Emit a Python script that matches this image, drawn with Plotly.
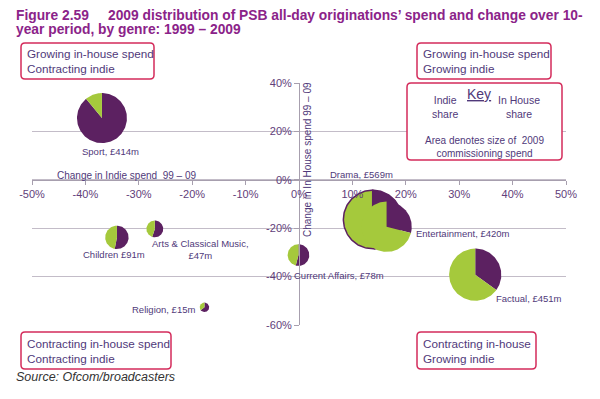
import numpy as np
import plotly.graph_objects as go

# ---------------- data ----------------
genres = ["Sport", "Children", "Arts & Classical Music", "Religion",
          "Current Affairs", "Factual", "Drama", "Entertainment"]
spend_m = [414, 91, 47, 15, 78, 451, 569, 420]
indie_change = [-36.9, -34.1, -27.0, -17.7, -0.1, 33.0, 13.8, 16.4]
inhouse_change = [25.5, -23.8, -20.3, -52.7, -31.1, -39.2, -16.4, -19.4]
indie_share = [0.11, 0.47, 0.45, 0.35, 0.46, 0.65, 0.51, 0.71]
labels = ["Sport, £414m", "Children £91m", "Arts & Classical Music,<br>£47m",
          "Religion, £15m", "Current Affairs, £78m", "Factual, £451m",
          "Drama, £569m", "Entertainment, £420m"]

key_pos = (34.8, 25.1)
key_share = 0.48
key_spend = 95

x_ticks = [-50, -40, -30, -20, -10, 0, 10, 20, 30, 40, 50]
y_ticks = [-60, -40, -20, 0, 20, 40]

# ---------------- layout geometry ----------------
OFF = 8                      # browser body margin
W, H = 600 - OFF, 399 - OFF
PL, PR, PT, PB = 32, 566, 83, 325   # plot area in window pixels
ML, MR, MT, MB = PL - OFF, W - (PR - OFF), PT - OFF, H - (PB - OFF)
PW, PH = PR - PL, PB - PT
XR, YR = (-50, 50), (-60, 40)
ppx = PW / (XR[1] - XR[0])
ppy = PH / (YR[1] - YR[0])
R_K = 25 / np.sqrt(414)  # px radius per sqrt(£m)

PURPLE = "#5c2161"
GREEN = "#a5c93c"
BOX = "#d42b5b"
TXT = "#50397a"
FONT = "Liberation Sans, Arial, sans-serif"

fig = go.Figure()


def wedge(cx, cy, rpx, a0, a1):
    th = np.linspace(a0, a1, max(8, int(abs(a1 - a0) / 2) + 2))
    th = np.radians(th)
    xs = [cx] + list(cx + rpx * np.sin(th) / ppx) + [cx]
    ys = [cy] + list(cy + rpx * np.cos(th) / ppy) + [cy]
    return xs, ys


def add_pie(cx, cy, spend, share, outline=False):
    r = R_K * np.sqrt(spend)
    split = 360 * (1 - share)
    line = dict(color=PURPLE, width=1.5) if outline else dict(width=0)
    for a0, a1, col in [(0, split, PURPLE), (split, 360, GREEN)]:
        xs, ys = wedge(cx, cy, r, a0, a1)
        fig.add_trace(go.Scatter(x=xs, y=ys, mode="lines", fill="toself",
                                 fillcolor=col, line=line, hoverinfo="skip",
                                 showlegend=False))


for g, s, xc, yc, sh in zip(genres, spend_m, indie_change, inhouse_change, indie_share):
    add_pie(xc, yc, s, sh, outline=(g == "Drama"))

add_pie(key_pos[0], key_pos[1], key_spend, key_share)

# labels (pixel offsets from pie centres)
label_off = {
    "Sport": (9, -33, "center"),
    "Children": (-3, -17, "center"),
    "Arts & Classical Music": (46, -21, "center"),
    "Religion": (-7, -2, "right"),
    "Current Affairs": (41, -20, "center"),
    "Factual": (19, -24, "left"),
    "Drama": (-11, 45, "center"),
    "Entertainment": (27, -7, "left"),
}
for g, xc, yc, lab in zip(genres, indie_change, inhouse_change, labels):
    dx, dy, xa = label_off[g]
    fig.add_annotation(x=xc, y=yc, xref="x", yref="y", text=lab, showarrow=False,
                       xshift=dx, yshift=dy, xanchor=xa, yanchor="middle",
                       align="center", font=dict(size=9.5, color=TXT, family=FONT))


def px2paper(px, py):
    return (px - PL) / PW, (PB - py) / PH


def rrect(x0, y0, x1, y1, r=4):
    rx, ry = r / PW, r / PH
    a0, b0 = px2paper(x0, y1)  # bottom-left
    a1, b1 = px2paper(x1, y0)  # top-right
    p = (f"M {a0+rx},{b0} L {a1-rx},{b0} Q {a1},{b0} {a1},{b0+ry} "
         f"L {a1},{b1-ry} Q {a1},{b1} {a1-rx},{b1} L {a0+rx},{b1} "
         f"Q {a0},{b1} {a0},{b1-ry} L {a0},{b0+ry} Q {a0},{b0} {a0+rx},{b0} Z")
    fig.add_shape(type="path", path=p, xref="paper", yref="paper",
                  line=dict(color=BOX, width=1.5), fillcolor="white", layer="above")


def ptext(px, py, text, size=11.5, xa="left", ya="middle", color=TXT, align="left", **kw):
    a, b = px2paper(px, py)
    fig.add_annotation(x=a, y=b, xref="paper", yref="paper", text=text, showarrow=False,
                       xanchor=xa, yanchor=ya, align=align,
                       font=dict(size=size, color=color, family=FONT), **kw)


boxes = [
    (21, 43, 154, 79, "Growing in-house spend<br>Contracting indie"),
    (417, 43, 551, 79, "Growing in-house spend<br>Growing indie"),
    (21, 332, 171, 369, "Contracting in-house spend<br>Contracting indie"),
    (417, 332, 536, 369, "Contracting in-house<br>Growing indie"),
]
for x0, y0, x1, y1, t in boxes:
    rrect(x0, y0, x1, y1)
    ptext(x0 + 4, (y0 + y1) / 2, t, size=11.7)

# key box
rrect(407, 83, 562, 160)
ptext(479, 94, "<u>Key</u>", size=14, xa="center", align="center")
ptext(445, 107, "Indie<br>share", size=10.5, xa="center", align="center")
ptext(519, 107, "In House<br>share", size=10.5, xa="center", align="center")
ptext(484, 147, "Area denotes size of \u00a02009<br>commissioning spend", size=10,
      xa="center", align="center")

# axis titles
ptext(55, 175, "Change in Indie spend \u00a099 – 09", size=10)
ptext(307, 160, "Change in In House spend 99 – 09", size=10, xa="center",
      align="center", textangle=-90)

# title and source
TITLE = "#8b2389"
ptext(14, 15.5, "<b>Figure 2.59 \u00a0\u00a0\u00a0 2009 distribution of PSB all-day originations’ spend and change over 10-</b>",
      size=13.8, color=TITLE)
ptext(14, 30, "<b>year period, by genre: 1999 – 2009</b>", size=13.8, color=TITLE)
ptext(14, 377, "<i>Source: Ofcom/broadcasters</i>", size=12.5, color="#333333")

AX = "#a79fae"
fig.update_layout(
    width=W, height=H, margin=dict(l=ML, r=MR, t=MT, b=MB),
    paper_bgcolor="white", plot_bgcolor="white",
    font=dict(family=FONT, color="#62407a"),
    xaxis=dict(range=list(XR), tickvals=x_ticks, ticktext=[f"{v}%" for v in x_ticks],
               anchor="free", position=(0 - YR[0]) / (YR[1] - YR[0]),
               showgrid=False, zeroline=False, showline=True, linecolor=AX, linewidth=1,
               ticks="outside", ticklen=4, tickcolor=AX, fixedrange=True,
               tickfont=dict(size=11, color="#62407a")),
    yaxis=dict(range=list(YR), tickvals=y_ticks, ticktext=[f"{v}%" for v in y_ticks],
               anchor="free", position=(0 - XR[0]) / (XR[1] - XR[0]),
               showgrid=True, gridcolor="#c3bcc8", gridwidth=1, zeroline=False,
               showline=True, linecolor=AX, linewidth=1,
               ticks="outside", ticklen=5, tickcolor=AX, fixedrange=True,
               tickfont=dict(size=11, color="#62407a")),
)

fig.write_html("out.html")
